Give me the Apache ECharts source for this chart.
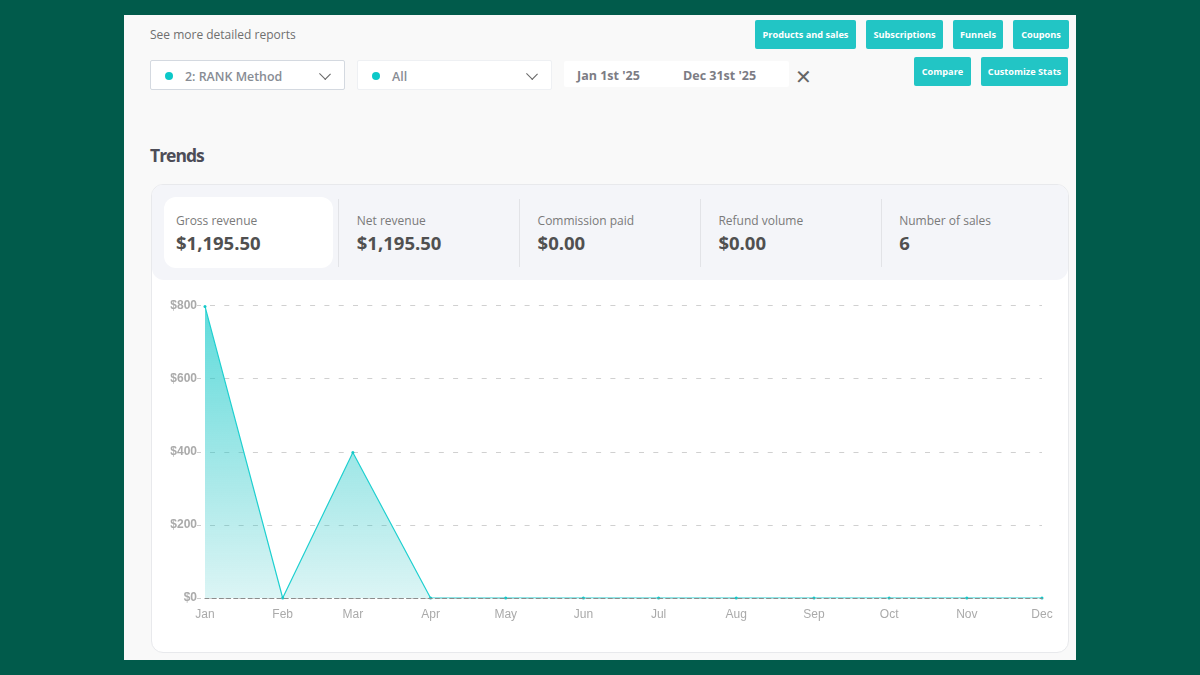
<!DOCTYPE html>
<html>
<head>
<meta charset="utf-8">
<title>Trends</title>
<script src="https://cdn.jsdelivr.net/npm/echarts@6/dist/echarts.min.js"></script>
<style>
html, body { margin: 0; padding: 0; width: 1200px; height: 675px; overflow: hidden; background: #015b4b; font-family: "Open Sans", "Noto Sans", sans-serif; }
#panel { position: absolute; left: 124px; top: 15px; width: 952px; height: 645px; background: #f9f9f9; }
.abs { position: absolute; white-space: nowrap; }
.btn { position: absolute; height: 29px; line-height: 29px; background: #22c5c5; color: #fff; font-size: 9.2px; font-weight: 700; text-align: center; border-radius: 2px; }
.select { position: absolute; top: 60px; height: 28px; background: #fff; border-radius: 2px; border: 1px solid #eef0f3; }
.select.on { border-color: #d4d9e0; }
.dot { position: absolute; left: 14px; top: 11px; width: 8px; height: 8px; border-radius: 50%; background: #0cc8c8; }
.select span { position: absolute; top: 1px; line-height: 29px; font-size: 12.4px; font-weight: 600; color: #888c94; }
.chev { position: absolute; top: 9px; width: 7px; height: 7px; border-right: 1.4px solid #666; border-bottom: 1.4px solid #666; transform: rotate(45deg) scaleX(1.1); }
#card { position: absolute; left: 151px; top: 184px; width: 916px; height: 467px; background: #fff; border: 1px solid #e8e9ec; border-radius: 12px; overflow: hidden; }
#strip { position: absolute; left: 0; top: 0; width: 100%; height: 95px; background: #f4f5f9; border-radius: 0 0 12px 12px; }
#active { position: absolute; left: 12px; top: 12px; width: 169px; height: 71px; background: #fff; border-radius: 12px; }
.sep { position: absolute; top: 14px; width: 1px; height: 68px; background: #e2e3e7; }
.stat-label { position: absolute; top: 27px; font-size: 12px; color: #7a7a7a; white-space: nowrap; }
.stat-value { position: absolute; top: 45px; font-size: 18.5px; font-weight: 700; color: #505050; white-space: nowrap; }
#chart { position: absolute; left: 151px; top: 280px; width: 918px; height: 373px; }
</style>
</head>
<body>
<div id="panel"></div>
<div class="abs" style="left:150px;top:26px;font-size:12px;color:#6f6f6f">See more detailed reports</div>

<div class="select on" style="left:150px;width:193px"><div class="dot"></div><span style="left:34px">2: RANK Method</span><div class="chev" style="left:170px"></div></div>
<div class="select" style="left:357px;width:193px"><div class="dot"></div><span style="left:34px">All</span><div class="chev" style="left:170px"></div></div>
<div class="abs" style="left:564px;top:61px;width:225px;height:26px;background:#fff;border-radius:2px"></div>
<div class="abs" style="left:577px;top:67px;font-size:12.5px;font-weight:700;color:#7c7c84">Jan 1st '25</div>
<div class="abs" style="left:683px;top:67px;font-size:12.5px;font-weight:700;color:#7c7c84">Dec 31st '25</div>
<div class="abs" style="left:795px;top:65px;font-size:20px;color:#666;line-height:24px">&#10005;</div>

<div class="abs" style="left:150px;top:143px;font-size:17.5px;font-weight:700;color:#4d4d57;letter-spacing:-1px">Trends</div>

<div class="btn" style="left:755px;top:20px;width:101px">Products and sales</div>
<div class="btn" style="left:866px;top:20px;width:77px">Subscriptions</div>
<div class="btn" style="left:953px;top:20px;width:50px">Funnels</div>
<div class="btn" style="left:1013px;top:20px;width:56px">Coupons</div>
<div class="btn" style="left:914px;top:57px;width:57px">Compare</div>
<div class="btn" style="left:981px;top:57px;width:87px">Customize Stats</div>

<div id="card">
  <div id="strip">
    <div id="active"></div>
    <div id="stats"></div>
  </div>
</div>
<div id="chart"></div>

<script>
var months = ['2025-01-01','2025-02-01','2025-03-01','2025-04-01','2025-05-01','2025-06-01','2025-07-01','2025-08-01','2025-09-01','2025-10-01','2025-11-01','2025-12-01'];
var revenue = [797.5, 0, 398, 0, 0, 0, 0, 0, 0, 0, 0, 0];
var yTicks = [0, 200, 400, 600, 800];
var statLabels = ['Gross revenue', 'Net revenue', 'Commission paid', 'Refund volume', 'Number of sales'];
var statValues = ['$1,195.50', '$1,195.50', '$0.00', '$0.00', '6'];

// stat strip above the chart
var statsHtml = '';
for (var i = 0; i < statLabels.length; i++) {
    var left = 24 + i * 180.8;
    statsHtml += '<div class="stat-label" style="left:' + left + 'px">' + statLabels[i] + '</div>';
    statsHtml += '<div class="stat-value" style="left:' + left + 'px">' + statValues[i] + '</div>';
    if (i < 4) {
        statsHtml += '<div class="sep" style="left:' + (186 + i * 181) + 'px"></div>';
    }
}
document.getElementById('stats').innerHTML = statsHtml;

var seriesData = [];
for (var k = 0; k < months.length; k++) {
    seriesData.push([months[k], revenue[k]]);
}

var myChart = echarts.init(document.getElementById('chart'));
var option = {
    animation: false,
    grid: { left: 54, right: 27, top: 25.5, bottom: 55 },
    xAxis: {
        type: 'time',
        min: months[0],
        max: months[months.length - 1],
        z: 5,
        axisLine: { show: true, lineStyle: { color: '#8c8c8c', type: [4, 3.2], width: 1.2 } },
        axisTick: { show: false },
        splitLine: { show: false },
        axisLabel: {
            formatter: '{MMM}',
            color: '#aaa',
            fontFamily: 'Liberation Sans',
            fontSize: 12,
            fontWeight: 'normal',
            margin: 11,
            hideOverlap: false,
            showMinLabel: true,
            showMaxLabel: true,
            alignMinLabel: 'center',
            alignMaxLabel: 'center'
        }
    },
    yAxis: {
        type: 'value',
        min: yTicks[0],
        max: yTicks[yTicks.length - 1],
        interval: 200,
        axisLine: { show: false },
        axisTick: { show: true, length: 8, lineStyle: { color: '#ccc', type: [4, 4], dashOffset: 4 } },
        axisLabel: {
            formatter: '${value}',
            color: '#aaa',
            fontFamily: 'Liberation Sans',
            fontWeight: 'bold',
            fontSize: 12,
            margin: 8
        },
        splitLine: { lineStyle: { color: '#d0d0d0', type: [5, 9.3], dashOffset: 9.3, width: 1.2 } }
    },
    series: [
        {
            name: 'Gross revenue',
            type: 'line',
            data: seriesData,
            symbol: 'circle',
            symbolSize: 3,
            showSymbol: true,
            itemStyle: { color: '#14c8c8' },
            lineStyle: { color: '#1fd0d0', width: 1.2 },
            areaStyle: {
                color: new echarts.graphic.LinearGradient(0, 0, 0, 1, [
                    { offset: 0, color: 'rgba(25,205,205,1)' },
                    { offset: 1, color: 'rgba(25,190,190,0.22)' }
                ])
            }
        }
    ]
};
myChart.setOption(option);
</script>
</body>
</html>
